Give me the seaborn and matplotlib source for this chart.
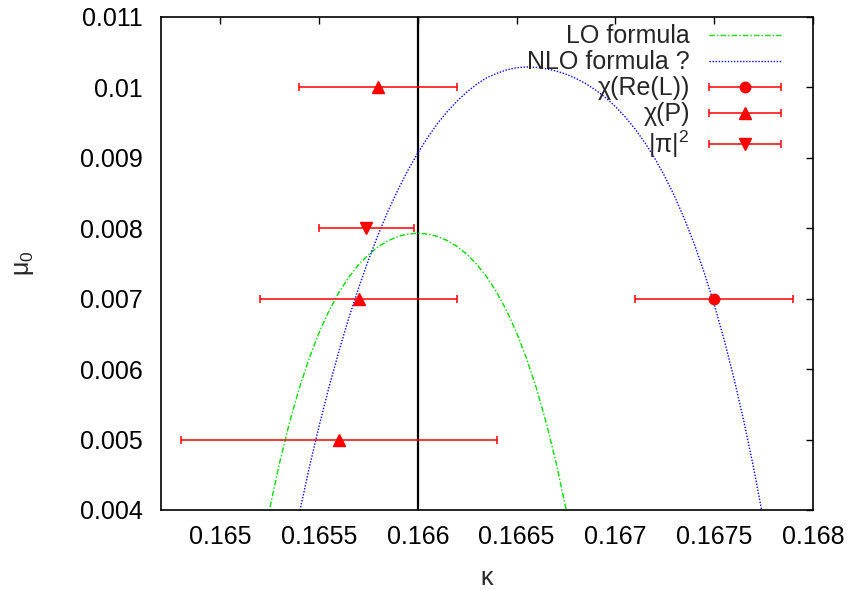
import matplotlib
matplotlib.use('Agg')
import matplotlib.pyplot as plt
import seaborn as sns
from matplotlib.container import ErrorbarContainer
from matplotlib.legend_handler import HandlerErrorbar

# LO formula curve (kappa, mu)
lo_kappa = [0.16520, 0.16525, 0.16530, 0.16535, 0.16540, 0.16545, 0.16550, 0.16555,
            0.16560, 0.16565, 0.16570, 0.16575, 0.16580, 0.16585, 0.16590, 0.16595,
            0.16600, 0.16605, 0.16610, 0.16615, 0.16620, 0.16625, 0.16630, 0.16635,
            0.16640, 0.16645, 0.16650, 0.16655, 0.16660, 0.16665, 0.16670, 0.16675,
            0.16680]
lo_mu = [0.003266, 0.004015, 0.004668, 0.005237, 0.005730, 0.006154, 0.006518, 0.006826,
         0.007087, 0.007304, 0.007482, 0.007626, 0.007739, 0.007824, 0.007884, 0.007918,
         0.007930, 0.007918, 0.007884, 0.007824, 0.007739, 0.007626, 0.007482, 0.007304,
         0.007087, 0.006826, 0.006518, 0.006154, 0.005730, 0.005237, 0.004668, 0.004015,
         0.003266]

# NLO formula curve
nlo_kappa = [0.16540, 0.16545, 0.16550, 0.16555, 0.16560, 0.16565, 0.16570, 0.16575,
             0.16580, 0.16585, 0.16590, 0.16595, 0.16600, 0.16605, 0.16610, 0.16615,
             0.16620, 0.16625, 0.16630, 0.16635, 0.16640, 0.16645, 0.16650, 0.16655,
             0.16660, 0.16665, 0.16670, 0.16675, 0.16680, 0.16685, 0.16690, 0.16695,
             0.16700, 0.16705, 0.16710, 0.16715, 0.16720, 0.16725, 0.16730, 0.16735,
             0.16740, 0.16745, 0.16750, 0.16755, 0.16760, 0.16765, 0.16770, 0.16775]
nlo_mu = [0.003953, 0.004594, 0.005190, 0.005740, 0.006250, 0.006720, 0.007150, 0.007550,
          0.007915, 0.008250, 0.008550, 0.008825, 0.009070, 0.009290, 0.009490, 0.009660,
          0.009810, 0.009940, 0.010050, 0.010140, 0.010200, 0.010250, 0.010280, 0.010290,
          0.010284, 0.010265, 0.010233, 0.010188, 0.010128, 0.010054, 0.009963, 0.009855,
          0.009728, 0.009579, 0.009408, 0.009212, 0.008989, 0.008736, 0.008450, 0.008129,
          0.007769, 0.007366, 0.006918, 0.006420, 0.005869, 0.005259, 0.004588, 0.003849]

# measured points with kappa errors
rel_kappa = [0.1675]
rel_mu = [0.007]
rel_err = [0.0004]

p_kappa = [0.1658, 0.1657, 0.1656]
p_mu = [0.010, 0.007, 0.005]
p_err = [0.0004, 0.0005, 0.0008]

pi_kappa = [0.16574]
pi_mu = [0.008]
pi_err = [0.00024]

kappa_c = 0.166

xticks = [0.165, 0.1655, 0.166, 0.1665, 0.167, 0.1675, 0.168]
xtick_labels = ['0.165', '0.1655', '0.166', '0.1665', '0.167', '0.1675', '0.168']
yticks = [0.004, 0.005, 0.006, 0.007, 0.008, 0.009, 0.010, 0.011]
ytick_labels = ['0.004', '0.005', '0.006', '0.007', '0.008', '0.009', '0.01', '0.011']

sns.set_style('white')
plt.rcParams['font.family'] = ['Liberation Sans', 'DejaVu Sans']
plt.rcParams['mathtext.fontset'] = 'custom'
plt.rcParams['mathtext.rm'] = 'Liberation Sans'
plt.rcParams['mathtext.it'] = 'Liberation Sans:italic'
plt.rcParams['mathtext.default'] = 'regular'

fs = 18

fig, ax = plt.subplots(figsize=(8.54, 5.90), dpi=100)
fig.subplots_adjust(left=0.1885, right=0.952, bottom=0.1356, top=0.9712)

sns.lineplot(x=lo_kappa, y=lo_mu, ax=ax, color='#00dd00', lw=1.0, sort=False,
             label='LO formula')
ax.lines[-1].set_dashes([4, 1.5, 1, 1.5])
sns.lineplot(x=nlo_kappa, y=nlo_mu, ax=ax, color='#0000ff', lw=1.0, sort=False,
             label='NLO formula ?')
ax.lines[-1].set_dashes([1, 1.2])

ax.axvline(kappa_c, color='black', lw=1.6, zorder=1)

red = '#ff0000'
ax.errorbar(rel_kappa, rel_mu, xerr=rel_err, fmt='o', color=red, ms=7.5,
            elinewidth=1.1, capsize=2.8, capthick=1.1, label='χ(Re(L))', zorder=5)
ax.errorbar(p_kappa, p_mu, xerr=p_err, fmt='^', color=red, ms=8,
            elinewidth=1.1, capsize=2.8, capthick=1.1, label='χ(P)', zorder=5)
ax.errorbar(pi_kappa, pi_mu, xerr=pi_err, fmt='v', color=red, ms=8,
            elinewidth=1.1, capsize=2.8, capthick=1.1, label='|π|$^2$', zorder=5)

ax.set_xlim(0.1647, 0.168)
ax.set_ylim(0.004, 0.011)
ax.set_xticks(xticks)
ax.set_xticklabels(xtick_labels)
ax.set_yticks(yticks)
ax.set_yticklabels(ytick_labels)
ax.tick_params(direction='in', length=5, width=1, top=True, right=True,
               labelsize=fs, pad=11, colors='black')
ax.tick_params(axis='y', pad=13)

for s in ax.spines.values():
    s.set_linewidth(1.2)
    s.set_color('black')

ax.set_xlabel('κ', fontsize=fs, labelpad=12)
ax.set_ylabel(r'$\mu_0$', fontsize=fs, labelpad=32)

leg = ax.legend(loc='upper right', bbox_to_anchor=(0.951, 0.985), frameon=False,
                fontsize=fs, markerfirst=False, handlelength=2.9, handletextpad=0.75,
                labelspacing=0.08, borderpad=0, borderaxespad=0,
                handler_map={ErrorbarContainer: HandlerErrorbar(xerr_size=1.45)})

fig.savefig('out.png', dpi=100)
